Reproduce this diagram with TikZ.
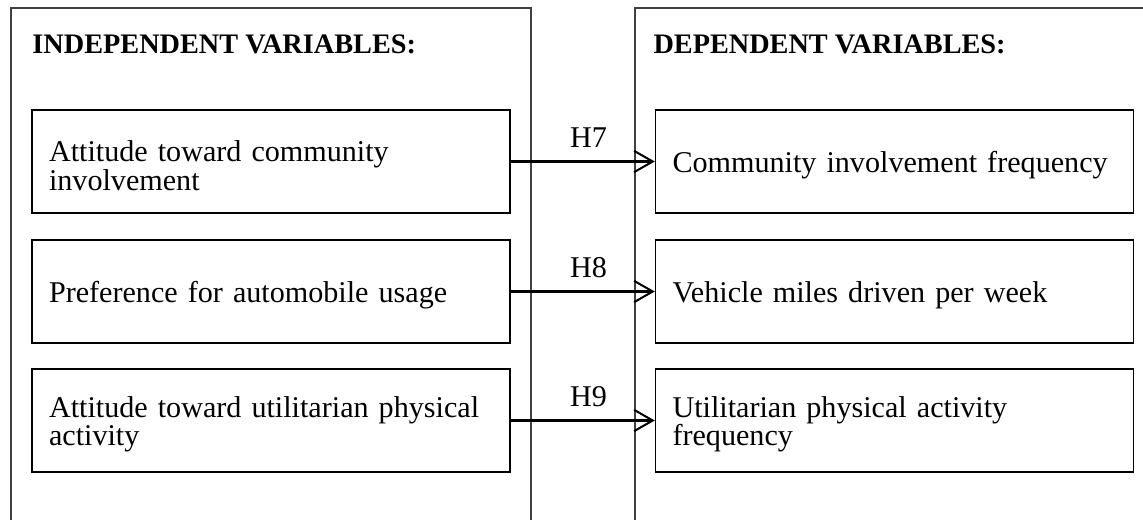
\documentclass[tikz,border=0pt]{standalone}
\usepackage{fontspec}
\setmainfont{Liberation Serif}
\usetikzlibrary{arrows.meta,calc}
\hyphenpenalty=10000

\tikzset{every picture/.style={line width=0.75pt}}
\tikzset{
  varbox/.style={draw=black, line width=1.1pt, rectangle, minimum width=358.5pt, minimum height=77.25pt,
    inner xsep=12.75pt, text width=333pt, text height=21.5pt, align=left,
    font=\fontsize{22.6}{21.6}\selectfont},
  heading/.style={anchor=base west, inner sep=0pt, font=\fontsize{21.2}{24}\selectfont\bfseries},
  hyp/.style={anchor=base, inner sep=0pt, font=\fontsize{22.6}{24}\selectfont},
  link/.style={line width=1.6pt, -{Straight Barb[length=14pt, width=16pt, line width=1.5pt]}},
  frame/.style={draw=black!75, line width=1pt}
}

\begin{document}
\begin{tikzpicture}[x=0.75pt,y=0.75pt,yscale=-1,xscale=1]
\useasboundingbox (0,0) rectangle (1143,520);

%Outer frames
\draw[frame] (11,530) -- (11,8) -- (531,8) -- (531,530);
\draw[frame] (635,530) -- (635,8) -- (1160,8);

%Headings
\node[heading] (indep) at (32,54) {INDEPENDENT VARIABLES:};
\node[heading] (dep) at (653,54) {DEPENDENT VARIABLES:};

%Independent variables
\node[varbox] (iv1) at (271,161.5) {Attitude toward community\\involvement};
\node[varbox] (iv2) at (271,291.5) {Preference for automobile usage};
\node[varbox] (iv3) at (271,420.5) {Attitude toward utilitarian physical\\activity};

%Dependent variables
\node[varbox] (dv1) at (894.5,161.5) {Community involvement frequency};
\node[varbox] (dv2) at (894.5,291.5) {Vehicle miles driven per week};
\node[varbox] (dv3) at (894.5,420.5) {Utilitarian physical activity\\frequency};

%Hypotheses
\foreach \i/\h in {1/H7,2/H8,3/H9}{
  \draw[link] (iv\i.east) -- (dv\i.west) coordinate[pos=0.54] (m\i);
  \node[hyp] (hyp\i) at ($(m\i)+(0,-14)$) {\h};
}

\end{tikzpicture}
\end{document}
